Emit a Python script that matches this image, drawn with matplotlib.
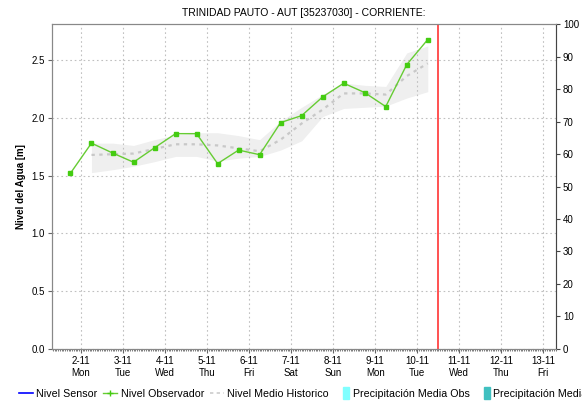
import matplotlib.pyplot as plt
from matplotlib.lines import Line2D
from matplotlib.patches import Patch, Rectangle
from matplotlib.legend_handler import HandlerPatch
from matplotlib.ticker import MultipleLocator

plt.rcParams['font.family'] = ['Liberation Sans', 'DejaVu Sans']

# day-of-month (November) as x, fraction = time of day
obs_t = [1.75, 2.25, 2.75, 3.25, 3.75, 4.25, 4.75, 5.25, 5.75,
         6.25, 6.75, 7.25, 7.75, 8.25, 8.75, 9.25, 9.75, 10.25]
obs_level = [1.52, 1.78, 1.695, 1.615, 1.74, 1.862, 1.862, 1.603, 1.72,
             1.68, 1.958, 2.018, 2.18, 2.298, 2.217, 2.096, 2.459, 2.676]

hist_t = obs_t[1:]
hist_mean = [1.678, 1.684, 1.69, 1.73, 1.77, 1.77, 1.76, 1.735, 1.71,
             1.81, 1.95, 2.07, 2.21, 2.21, 2.20, 2.36, 2.47]
hist_upper = [1.78, 1.78, 1.76, 1.81, 1.85, 1.87, 1.87, 1.845, 1.81,
              1.97, 2.09, 2.20, 2.30, 2.28, 2.27, 2.56, 2.62]
hist_lower = [1.525, 1.55, 1.58, 1.62, 1.665, 1.665, 1.625, 1.65, 1.665,
              1.72, 1.80, 2.01, 2.08, 2.09, 2.10, 2.17, 2.225]

now_t = 10.49
day_ticks = list(range(2, 14))
day_names = ['Mon', 'Tue', 'Wed', 'Thu', 'Fri', 'Sat', 'Sun',
             'Mon', 'Tue', 'Wed', 'Thu', 'Fri']
tick_labels = [f'{d}-11\n{n}' for d, n in zip(day_ticks, day_names)]


def narrow_box(legend, orig_handle, xdescent, ydescent, width, height, fontsize):
    # slim upright swatch, sitting at the right end of the handle slot
    w = width * 0.45
    return Rectangle((width - w - xdescent, -ydescent - 1), w, height + 2)


fig = plt.figure(figsize=(5.82, 4.05), dpi=100)
ax = fig.add_axes([0.0893, 0.1383, 0.866, 0.8024])

ax.fill_between(hist_t, hist_lower, hist_upper, color='#efefef', lw=0, zorder=1)
ax.plot(hist_t, hist_mean, color='#c8c8c8', lw=1.6, ls=(0, (1.5, 2)), zorder=2)
ax.plot(obs_t, obs_level, color='#66cc33', lw=1, marker='s', ms=3,
        mfc='#44cc11', mec='#44cc11', zorder=3)
ax.axvline(now_t, color='#ff3333', lw=1.2, zorder=4)

ax.set_xlim(1.31, 13.3)
ax.set_ylim(0, 2.81)
ax.set_xticks(day_ticks)
ax.set_xticklabels(tick_labels)
ax.xaxis.set_minor_locator(MultipleLocator(1 / 24))
ax.yaxis.set_major_locator(MultipleLocator(0.5))
ax.yaxis.set_major_formatter(plt.FormatStrFormatter('%.1f'))
ax.grid(True, color='#c0c0c0', ls=(0, (1.5, 2.5)), lw=0.8)
ax.tick_params(axis='both', labelsize=7, length=3, color='#666666', pad=2)
ax.tick_params(axis='x', which='minor', length=1.5, color='#666666')
for s in ax.spines.values():
    s.set_color('#888888')
ax.set_ylabel('Nivel del Agua [m]', fontsize=7, fontweight='bold', labelpad=4)
ax.set_title('TRINIDAD PAUTO - AUT [35237030] - CORRIENTE:', fontsize=7.5, pad=6)

ax2 = ax.twinx()
ax2.set_ylim(0, 100)
ax2.yaxis.set_major_locator(MultipleLocator(10))
ax2.tick_params(axis='y', labelsize=7, length=3, color='#444444', pad=2)
for s in ax2.spines.values():
    s.set_color('#888888')
ax2.spines['right'].set_color('#444444')

handles = [
    Line2D([], [], color='#0000ff', lw=1.2),
    Line2D([], [], color='#66cc33', lw=1, marker='+', ms=4, mec='#44cc11'),
    Line2D([], [], color='#cccccc', lw=1.2, ls=(0, (2, 2))),
    Patch(color='#80ffff'),
    Patch(color='#40c0c0'),
]
labels = ['Nivel Sensor', 'Nivel Observador', 'Nivel Medio Historico',
          'Precipitación Media Obs', 'Precipitación Media Pronosticada']
fig.legend(handles, labels, loc='center left', bbox_to_anchor=(0.032, 0.028),
           ncol=5, frameon=False, fontsize=7.7, handlelength=1.3,
           handletextpad=0.3, columnspacing=0.6, handleheight=0.9,
           borderaxespad=0, borderpad=0,
           handler_map={Patch: HandlerPatch(patch_func=narrow_box)})

fig.savefig('out.png', dpi=100)
